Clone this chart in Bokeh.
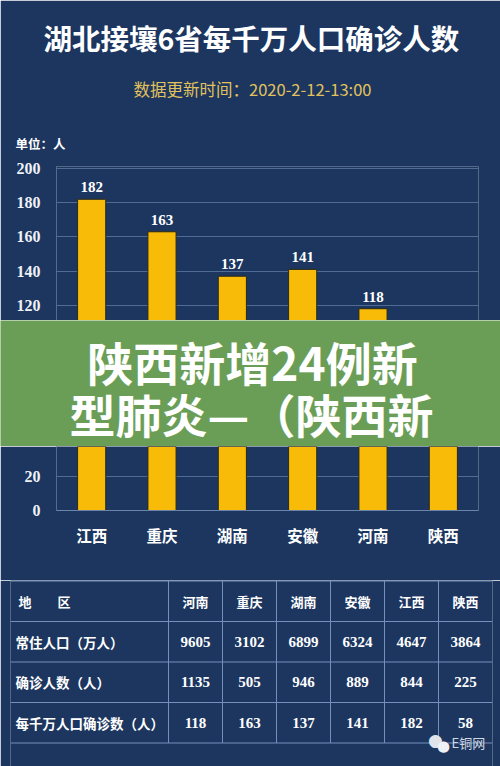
from bokeh.plotting import figure
from bokeh.models import Range1d, FactorRange, FixedTicker, Label, Title, ColumnDataSource
from bokeh.core.properties import value
from bokeh.embed import file_html
from bokeh.resources import INLINE

# ---------------- data ----------------
provinces = ["江西", "重庆", "湖南", "安徽", "河南", "陕西"]
per_10m = [182, 163, 137, 141, 118, 58]
y_ticks = [0, 20, 40, 60, 80, 100, 120, 140, 160, 180, 200]

table_regions = ["河南", "重庆", "湖南", "安徽", "江西", "陕西"]
population = [9605, 3102, 6899, 6324, 4647, 3864]
confirmed = [1135, 505, 946, 889, 844, 225]
per_10m_table = [118, 163, 137, 141, 182, 58]
row_labels = ["常住人口（万人）", "确诊人数（人）", "每千万人口确诊数（人）"]
header_label = "地　　区"

title_text = "湖北接壤6省每千万人口确诊人数"
subtitle_text = "数据更新时间：2020-2-12-13:00"
unit_text = "单位：人"
banner_lines = ["陕西新增24例新", "型肺炎—（陕西新"]
watermark_text = "E铜网"

# ---------------- style / layout constants ----------------
BG = "#1c365f"
GREEN = "#6a9e56"
BAR = "#f8bb08"
GRID = "#506c95"
TABLE_LINE = "#7491bd"
CJK = "Noto Sans CJK SC"
SERIF = "Liberation Serif"
W = 500
PX = 1.71          # pixels per unit on the value axis
ZERO_Y = 510       # page y of value 0
BANNER_TOP, BANNER_BOT = 320, 446
FRAME_TOP = 166
FRAME_LEFT = 56
TABLE_TOP = 580


def blank(h, fill):
    f = figure(width=W, height=h, x_range=Range1d(0, 1), y_range=Range1d(0, 1),
               output_backend="svg", toolbar_location=None,
               x_axis_location=None, y_axis_location=None,
               min_border=0, min_border_left=0, min_border_right=0,
               min_border_top=0, min_border_bottom=0,
               background_fill_color=fill, border_fill_color=fill, outline_line_color=None)
    f.grid.visible = False
    return f


def clabel(f, x, y, text, size, color="white", bold=True, align="center", font=CJK):
    f.add_layout(Label(x=x, y=y, x_units="canvas", y_units="canvas", text=text,
                       text_align=align, text_baseline="middle", text_font=font,
                       text_font_style="bold" if bold else "normal",
                       text_font_size=size, text_color=color))


# ---------------- chart (split by the overlay banner) ----------------
xr = FactorRange(*provinces)
bar_src = ColumnDataSource(dict(x=provinces, top=per_10m))


def chart_part(h, ylo, yhi, top_border, bottom_border, with_xaxis):
    f = figure(width=W, height=h, x_range=xr, y_range=Range1d(ylo, yhi),
               output_backend="svg", toolbar_location=None,
               x_axis_location="below" if with_xaxis else None,
               min_border_top=top_border, min_border_bottom=bottom_border,
               min_border_left=FRAME_LEFT, min_border_right=22,
               background_fill_color=BG, border_fill_color=BG, outline_line_color=None)
    f.vbar(x="x", top="top", width=0.4, source=bar_src, fill_color=BAR,
           line_color="#2b2a18", line_width=1)
    vis = [i for i, v in enumerate(per_10m) if ylo <= v <= yhi]
    if vis:
        lsrc = ColumnDataSource(dict(x=[provinces[i] for i in vis],
                                     top=[per_10m[i] for i in vis],
                                     lbl=[str(per_10m[i]) for i in vis]))
        f.text(x="x", y="top", text="lbl", source=lsrc, text_align="center",
               text_baseline="bottom", y_offset=-7, text_font=value(SERIF),
               text_font_style="bold", text_font_size="15px", text_color="white")
    f.yaxis.ticker = FixedTicker(ticks=y_ticks)
    f.ygrid.ticker = FixedTicker(ticks=y_ticks)
    f.ygrid.grid_line_color = GRID
    f.xgrid.grid_line_color = None
    f.yaxis.major_tick_line_color = None
    f.yaxis.major_tick_out = 0
    f.yaxis.minor_tick_line_color = None
    f.yaxis.axis_line_color = GRID
    f.yaxis.major_label_standoff = 16
    f.yaxis.major_label_text_font = SERIF
    f.yaxis.major_label_text_font_style = "bold"
    f.yaxis.major_label_text_font_size = "16px"
    f.yaxis.major_label_text_color = "#eef1f6"
    if with_xaxis:
        f.xaxis.major_tick_line_color = None
        f.xaxis.major_tick_out = 0
        f.xaxis.axis_line_color = "#6a84aa"
        f.xaxis.major_label_standoff = 13
        f.xaxis.major_label_text_font = CJK
        f.xaxis.major_label_text_font_style = "bold"
        f.xaxis.major_label_text_font_size = "15.5px"
        f.xaxis.major_label_text_color = "white"
    return f


top_lo = (ZERO_Y - BANNER_TOP) / PX
top_hi = top_lo + (BANNER_TOP - FRAME_TOP) / PX
chart_top = chart_part(BANNER_TOP, top_lo, top_hi, FRAME_TOP, 0, False)

# header texts as titles stacked above the frame (first added = nearest the frame)
chart_top.add_layout(Title(text=unit_text, align="left", offset=15 - FRAME_LEFT, standoff=27,
                           text_font=CJK, text_font_style="bold", text_font_size="12.5px",
                           text_color="white"), "above")
chart_top.add_layout(Title(text=subtitle_text, align="left", offset=133 - FRAME_LEFT, standoff=35,
                           text_font=CJK, text_font_style="normal", text_font_size="16.5px",
                           text_color="#e2c25c"), "above")
chart_top.add_layout(Title(text=title_text, align="left", offset=43 - FRAME_LEFT, standoff=0,
                           text_font=CJK, text_font_style="bold", text_font_size="28.5px",
                           text_color="white"), "above")

# green overlay banner
banner = blank(BANNER_BOT - BANNER_TOP, GREEN)
clabel(banner, 252, 40, banner_lines[0], "46px")
clabel(banner, 251, 92, banner_lines[1], "46px")

chart_bottom = chart_part(TABLE_TOP - BANNER_BOT, 0, (ZERO_Y - BANNER_BOT) / PX,
                          0, TABLE_TOP - ZERO_Y, True)

# ---------------- table ----------------
ncol = len(table_regions)
COLW = 54.0
ROWH = 40.5
label_w = 158 / COLW
rows = [population, confirmed, per_10m_table]
y_end = -0.5 - 0.5 / ROWH
y_start = y_end + (766 - TABLE_TOP) / ROWH

t = figure(width=W, height=766 - TABLE_TOP, x_range=Range1d(-label_w, ncol),
           y_range=Range1d(y_start, y_end),
           output_backend="svg", toolbar_location=None,
           x_axis_location=None, y_axis_location=None,
           min_border_top=0, min_border_bottom=0,
           min_border_left=10, min_border_right=8,
           background_fill_color=BG, border_fill_color=BG, outline_line_color=None)
t.grid.visible = False

hy = [r - 0.5 for r in range(len(rows) + 2)]
t.segment(x0=[-label_w] * len(hy), x1=[ncol] * len(hy), y0=hy, y1=hy,
          line_color=TABLE_LINE, line_width=1)
vx = list(range(ncol))
t.segment(x0=vx, x1=vx, y0=[hy[0]] * len(vx), y1=[hy[-1]] * len(vx),
          line_color=TABLE_LINE, line_width=1)

col_x = [i + 0.5 for i in range(ncol)]
t.text(x=col_x, y=[0] * ncol, text=table_regions, text_align="center", text_baseline="middle",
       text_font=value(CJK), text_font_style="bold", text_font_size="13px", text_color="white")
t.text(x=[-label_w], y=[0], text=[header_label], x_offset=8, text_align="left",
       text_baseline="middle", text_font=value(CJK), text_font_style="bold",
       text_font_size="13px", text_color="white")
t.text(x=[-label_w] * len(row_labels), y=[1, 2, 3], text=row_labels, x_offset=5,
       text_align="left", text_baseline="middle", text_font=value(CJK), text_font_style="bold",
       text_font_size="13.5px", text_color="white")
for r, vals in enumerate(rows, start=1):
    t.text(x=col_x, y=[r] * ncol, text=[str(v) for v in vals], text_align="center",
           text_baseline="middle", text_font=value(SERIF), text_font_style="bold",
           text_font_size="15px", text_color="white")

# wechat-style watermark
wm_y = 742 - TABLE_TOP
clabel(t, 435, wm_y - 3, "●", "17px", color="#dfe3ea", bold=False, font="DejaVu Sans")
clabel(t, 443, wm_y + 3, "●", "15px", color="#eef1f5", bold=False, font="DejaVu Sans")
clabel(t, 451, wm_y, watermark_text, "13px", color="#d3d9e2", bold=False, align="left")

open("out.html", "w").write(file_html([chart_top, banner, chart_bottom, t], INLINE))
